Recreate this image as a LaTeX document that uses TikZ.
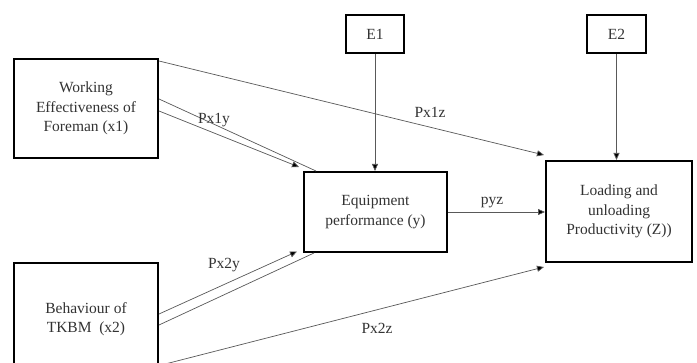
\documentclass[tikz,border=0pt]{standalone}
\usepackage{fontspec}
\setmainfont{Liberation Serif}
\usetikzlibrary{calc,arrows.meta}
\begin{document}
\begin{tikzpicture}[x=1pt,y=-1pt,
  box/.style={draw=black,line width=2pt,fill=white,align=center,inner sep=0pt,
    font=\fontsize{15.5}{19.5}\selectfont,text=black!80},
  conn/.style={draw=black!65,line width=0.7pt},
  arr/.style={conn,-{Triangle[length=7pt,width=6pt,fill=black]}},
  lab/.style={font=\fontsize{15.5}{18}\selectfont,text=black!80,inner sep=1pt}]
\clip (0,0) rectangle (697,363);
\fill[white] (0,0) rectangle (697,363);
\node[box,minimum width=144pt,minimum height=99pt] (x1) at (86,108.5) {Working\\Effectiveness of\\Foreman (x1)};
\node[box,minimum width=144pt,minimum height=112pt] (x2) at (86,319) {Behaviour of\\TKBM\ \ (x2)};
\node[box,minimum width=58pt,minimum height=38pt] (e1) at (375,34) {E1};
\node[box,minimum width=59pt,minimum height=38pt] (e2) at (616.5,34) {E2};
\node[box,minimum width=143pt,minimum height=80pt] (y) at (375.5,212) {Equipment\\performance (y)};
\node[box,minimum width=146pt,minimum height=101pt] (z) at (619,211.5) {Loading and\\unloading\\Productivity (Z))};
% connectors
\draw[arr] ($(x1.north east)+(0,3)$) -- ($(z.north west)+(-1,-5)$);
\draw[arr] ($(x1.east)+(0,2.5)$) -- ($(y.north west)+(-4,-4)$);
\draw[conn] ($(x1.east)+(0,-9.5)$) -- ($(y.north west)+(13,0)$);
\draw[arr] ($(x2.east)+(0,-5)$) -- ($(y.south west)+(-6,-1.5)$);
\draw[conn] ($(x2.east)+(0,6)$) -- ($(y.south west)+(11,0)$);
\draw[arr] ($(x2.east)+(0,46.6)$) -- ($(z.south west)+(-1,4)$);
\draw[arr] (y.east) -- (y.east -| z.west);
\draw[arr] (e1.south) -- (e1.south |- y.north);
\draw[arr] (e2.south) -- (e2.south |- z.north);
% labels
\node[lab] (l1) at (214,120) {Px1y};
\node[lab] (l2) at (224,265) {Px2y};
\node[lab] (l3) at (430,112) {Px1z};
\node[lab] (l4) at (377,328) {Px2z};
\node[lab] (l5) at (492,203) {pyz};
\end{tikzpicture}
\end{document}
